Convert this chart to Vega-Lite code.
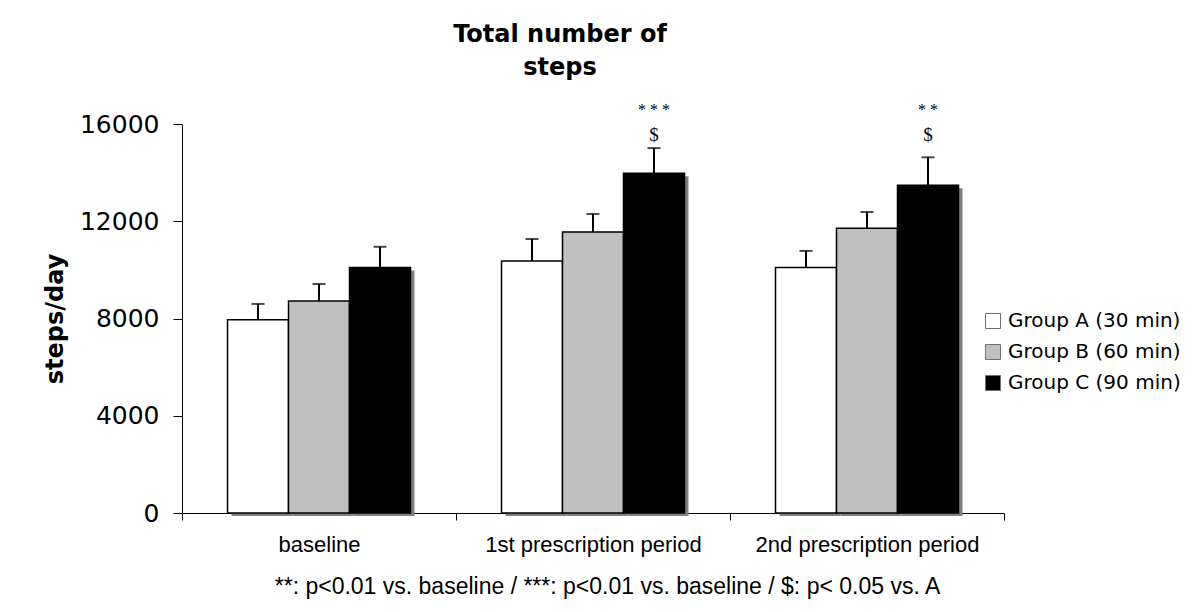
{
  "$schema": "https://vega.github.io/schema/vega-lite/v6.json",
  "autosize": "none",
  "width": 822,
  "height": 389,
  "padding": {"left": 182, "top": 124, "right": 193, "bottom": 99},
  "background": "white",
  "title": {
    "text": ["Total number of", "steps"],
    "font": "DejaVu Sans",
    "fontSize": 24,
    "fontWeight": "bold",
    "color": "black",
    "anchor": "middle",
    "frame": "group",
    "dx": -33,
    "lineHeight": 33,
    "offset": 22
  },
  "data": {
    "values": [
      {"period": "baseline", "group": "Group A (30 min)", "mean": 7950, "upper": 8600},
      {"period": "baseline", "group": "Group B (60 min)", "mean": 8720, "upper": 9420},
      {"period": "baseline", "group": "Group C (90 min)", "mean": 10100, "upper": 10950},
      {"period": "1st prescription period", "group": "Group A (30 min)", "mean": 10370, "upper": 11270},
      {"period": "1st prescription period", "group": "Group B (60 min)", "mean": 11560, "upper": 12300},
      {"period": "1st prescription period", "group": "Group C (90 min)", "mean": 13970, "upper": 15010, "stars": "* * *", "dollar": "$"},
      {"period": "2nd prescription period", "group": "Group A (30 min)", "mean": 10100, "upper": 10780},
      {"period": "2nd prescription period", "group": "Group B (60 min)", "mean": 11710, "upper": 12380},
      {"period": "2nd prescription period", "group": "Group C (90 min)", "mean": 13480, "upper": 14630, "stars": "* *", "dollar": "$"}
    ]
  },
  "encoding": {
    "x": {
      "field": "period",
      "type": "nominal",
      "sort": ["baseline", "1st prescription period", "2nd prescription period"],
      "scale": {"type": "band", "paddingInner": 0, "paddingOuter": 0},
      "axis": {
        "title": "**: p<0.01 vs. baseline / ***: p<0.01 vs. baseline / $: p< 0.05 vs. A",
        "titleFont": "Liberation Sans",
        "titleFontSize": 23,
        "titleFontWeight": "normal",
        "titleColor": "black",
        "titlePadding": 20,
        "titleX": 425,
        "labelAngle": 0,
        "labelLimit": 0,
        "labelFont": "Liberation Sans",
        "labelFontSize": 22,
        "labelColor": "black",
        "labelPadding": 14,
        "tickBand": "extent",
        "tickSize": 7,
        "tickColor": "black",
        "domainColor": "black",
        "grid": false
      }
    },
    "xOffset": {
      "field": "group",
      "type": "nominal",
      "sort": ["Group A (30 min)", "Group B (60 min)", "Group C (90 min)"],
      "scale": {"type": "band", "domain": ["Group A (30 min)", "Group B (60 min)", "Group C (90 min)"], "paddingInner": 0, "paddingOuter": 0.746}
    }
  },
  "layer": [
    {
      "mark": {"type": "bar", "color": "#808080", "yOffset": 3},
      "encoding": {
        "xOffset": {
          "field": "group",
          "type": "nominal",
          "sort": ["Group A (30 min)", "Group B (60 min)", "Group C (90 min)"],
          "scale": {"type": "band", "domain": ["Group A (30 min)", "Group B (60 min)", "Group C (90 min)"], "paddingInner": 0, "paddingOuter": 0.746, "align": 0.544}
        },
        "y": {"field": "mean", "type": "quantitative"}
      }
    },
    {
      "mark": {"type": "bar", "stroke": "black", "strokeWidth": 1.5},
      "encoding": {
        "y": {
          "field": "mean",
          "type": "quantitative",
          "scale": {"domain": [0, 16000]},
          "axis": {
            "values": [0, 4000, 8000, 12000, 16000],
            "format": "d",
            "title": "steps/day",
            "titleFont": "DejaVu Sans",
            "titleFontSize": 24,
            "titleFontWeight": "bold",
            "titleColor": "black",
            "titlePadding": 12,
            "labelFont": "DejaVu Sans",
            "labelFontSize": 25,
            "labelColor": "black",
            "labelPadding": 14,
            "tickSize": 9,
            "tickColor": "black",
            "domainColor": "black",
            "grid": false
          }
        },
        "color": {
          "field": "group",
          "type": "nominal",
          "sort": ["Group A (30 min)", "Group B (60 min)", "Group C (90 min)"],
          "scale": {"range": ["#FFFFFF", "#C0C0C0", "#000000"]},
          "legend": {
            "title": null,
            "orient": "none",
            "legendX": 801,
            "legendY": 187,
            "symbolType": "square",
            "symbolSize": 225,
            "symbolStrokeColor": "#707070",
            "symbolStrokeWidth": 1,
            "symbolOpacity": 1,
            "labelLimit": 0,
            "labelFont": "DejaVu Sans",
            "labelFontSize": 20,
            "labelColor": "black",
            "labelOffset": 5,
            "rowPadding": 11
          }
        }
      }
    },
    {
      "mark": {"type": "rule", "color": "black", "strokeWidth": 2},
      "encoding": {
        "y": {"field": "mean", "type": "quantitative"},
        "y2": {"field": "upper"}
      }
    },
    {
      "mark": {"type": "tick", "color": "black", "thickness": 2, "size": 13, "orient": "horizontal"},
      "encoding": {
        "y": {"field": "upper", "type": "quantitative"}
      }
    },
    {
      "transform": [{"filter": "datum.stars != null"}],
      "mark": {"type": "text", "font": "Liberation Serif", "fontSize": 16, "color": "#000000", "baseline": "middle"},
      "encoding": {
        "y": {"datum": 16560, "type": "quantitative"},
        "text": {"field": "stars"}
      }
    },
    {
      "transform": [{"filter": "datum.dollar != null"}],
      "mark": {"type": "text", "font": "Liberation Serif", "fontSize": 19, "color": "#000000", "baseline": "middle"},
      "encoding": {
        "y": {"datum": 15548, "type": "quantitative"},
        "text": {"field": "dollar"}
      }
    }
  ],
  "resolve": {"scale": {"xOffset": "independent"}},
  "config": {
    "view": {"stroke": null},
    "axis": {"domainWidth": 1, "tickWidth": 1}
  }
}
